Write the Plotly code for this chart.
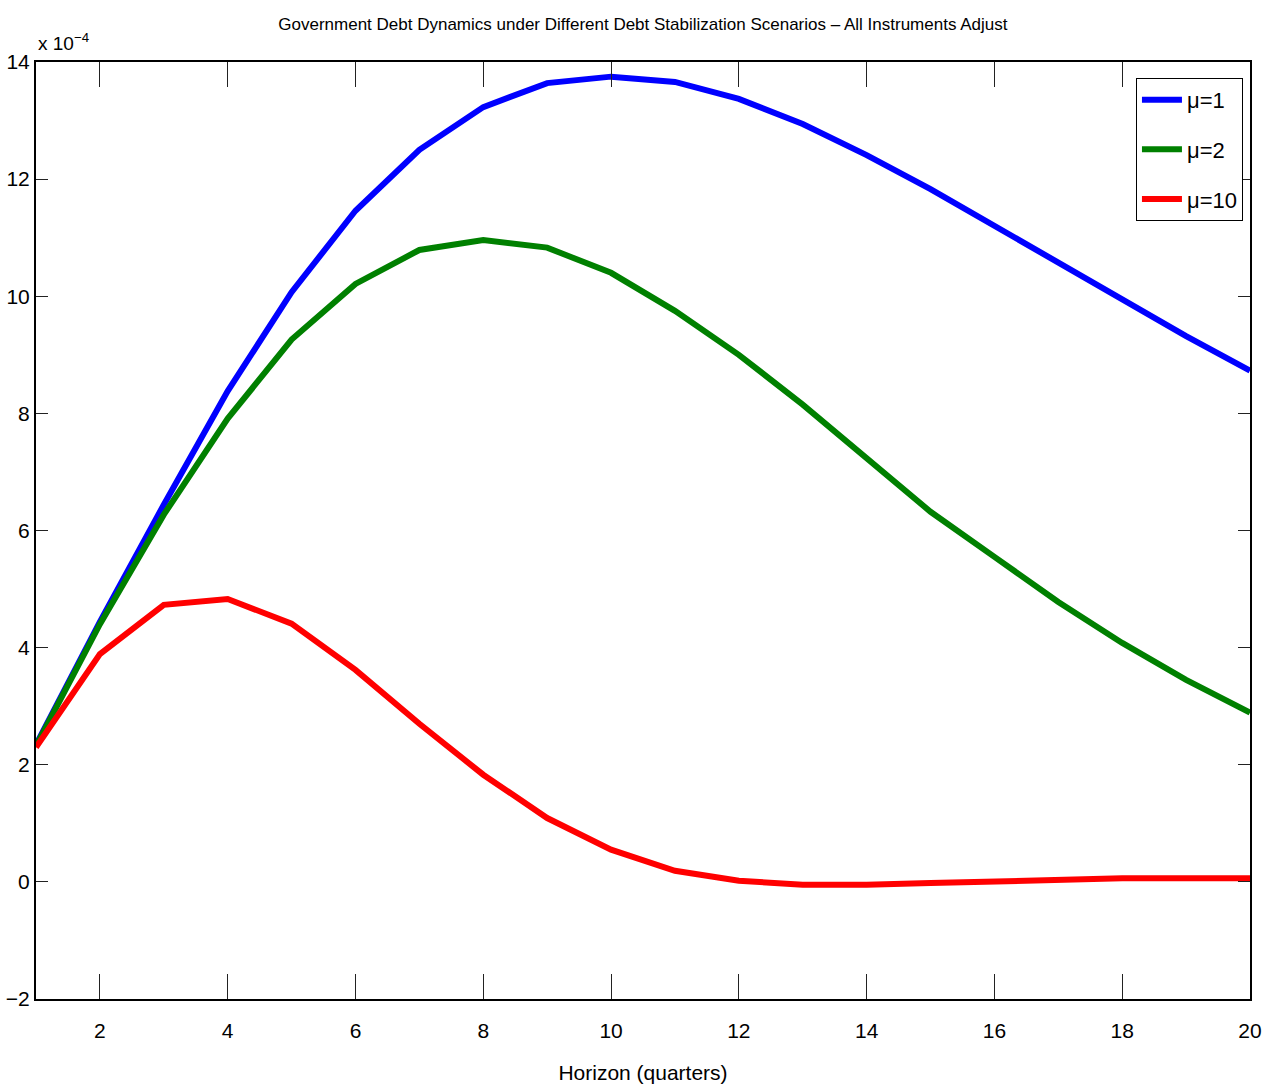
import plotly.graph_objects as go

# Horizon in quarters
horizon = list(range(1, 21))

# Government debt response (units of 1e-4) for each stabilization speed
debt_mu1 = [2.34, 4.44, 6.44, 8.38, 10.07, 11.46, 12.50, 13.23, 13.64, 13.75,
            13.66, 13.37, 12.94, 12.41, 11.83, 11.20, 10.57, 9.94, 9.32, 8.73]
debt_mu2 = [2.32, 4.40, 6.27, 7.91, 9.26, 10.21, 10.79, 10.96, 10.83, 10.40,
            9.75, 9.00, 8.15, 7.24, 6.32, 5.55, 4.78, 4.08, 3.45, 2.89]
debt_mu10 = [2.30, 3.89, 4.73, 4.83, 4.41, 3.62, 2.70, 1.83, 1.09, 0.55,
             0.19, 0.02, -0.05, -0.05, -0.02, 0.01, 0.03, 0.06, 0.06, 0.06]

series_names = ["\u03bc=1", "\u03bc=2", "\u03bc=10"]
series_colors = ["#0000ff", "#008000", "#ff0000"]

x_ticks = list(range(2, 21, 2))
y_ticks = list(range(-2, 15, 2))

FONT = "Liberation Sans Narrow, Arial Narrow, Liberation Sans, sans-serif"

fig = go.Figure()
for i, (name, vals, col) in enumerate(zip(series_names, [debt_mu1, debt_mu2, debt_mu10], series_colors)):
    fig.add_trace(go.Scatter(
        x=horizon, y=vals, mode="lines", name=name, legendgroup=f"g{i}",
        line=dict(color=col, width=6),
    ))

axis_common = dict(
    showline=True, linecolor="black", linewidth=2, mirror="ticks",
    ticks="inside", tickcolor="#222222", tickwidth=1,
    showgrid=False, zeroline=False, automargin=False,
    tickfont=dict(family=FONT, size=21, color="black"),
)

fig.update_xaxes(range=[1, 20], tickvals=x_ticks, ticklen=25, ticklabelstandoff=12,
                 title=dict(text="Horizon (quarters)", standoff=24,
                            font=dict(family=FONT, size=21, color="black")),
                 **axis_common)
fig.update_yaxes(range=[-2, 14], tickvals=y_ticks, ticklen=12, **axis_common)

fig.update_layout(
    width=1263, height=1091,
    margin=dict(l=36, r=13, t=62, b=92),
    paper_bgcolor="white", plot_bgcolor="white",
    font=dict(family=FONT, size=21, color="black"),
    title=dict(text="Government Debt Dynamics under Different Debt Stabilization Scenarios \u2013 All Instruments Adjust",
               x=0.509, xanchor="center", y=0.978, yanchor="middle",
               font=dict(family=FONT, size=17, color="black")),
    legend=dict(x=0.9942, xanchor="right", y=0.983, yanchor="top",
                bordercolor="black", borderwidth=1, bgcolor="white",
                font=dict(family=FONT, size=22, color="black"),
                tracegroupgap=18, itemwidth=40),
    showlegend=True,
    annotations=[dict(text="x 10<sup>\u22124</sup>", xref="paper", yref="paper",
                      x=0.0, y=1.0, xanchor="left", yanchor="bottom", yshift=6,
                      showarrow=False, font=dict(family=FONT, size=19, color="black"))],
)

fig.write_html("out.html")
